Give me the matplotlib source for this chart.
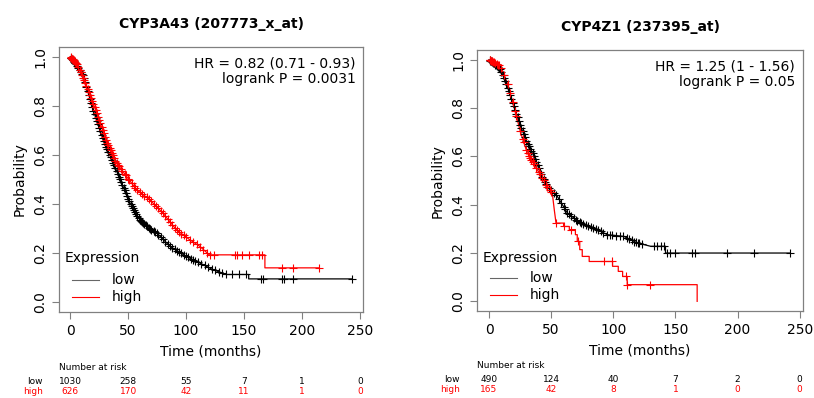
import numpy as np
import matplotlib
matplotlib.use('Agg')
import matplotlib.pyplot as plt
import matplotlib.transforms as mtransforms

plt.rcParams['font.family'] = 'DejaVu Sans'

# ---- left panel: CYP3A43 ----
a_title = 'CYP3A43 (207773_x_at)'
a_stats = 'HR = 0.82 (0.71 - 0.93)\nlogrank P = 0.0031'
a_low_t = [0, 5, 11.5, 20, 28.6, 37.2, 43, 51.5, 60, 67, 74.5, 86, 100, 111.7, 123, 134.6, 154, 154, 243]
a_low_s = [1.0, 0.97, 0.92, 0.78, 0.66, 0.567, 0.50, 0.405, 0.336, 0.305, 0.283, 0.228, 0.187, 0.16, 0.133, 0.113, 0.113, 0.095, 0.095]
a_high_t = [0, 6, 14.3, 23, 31, 40, 48.7, 57.3, 68.7, 80, 91.6, 103, 111.7, 120, 168, 168, 215]
a_high_s = [1.0, 0.97, 0.878, 0.77, 0.66, 0.567, 0.512, 0.458, 0.417, 0.363, 0.295, 0.255, 0.228, 0.193, 0.193, 0.14, 0.14]
a_low_cens = [0.5, 1, 1.5, 2, 2.5, 3, 3.5, 4, 4.5, 5, 6, 7, 8, 9, 10, 11, 12, 13, 14, 15, 16, 17, 18, 19, 20,
              21, 22, 23, 24, 25, 26, 27, 28, 29, 30, 31, 32, 33, 34, 35, 36, 37, 38, 39, 40, 41, 42, 43, 44,
              45, 46, 47, 48, 49, 50, 51, 52, 53, 54, 55, 56, 57, 58, 59, 60, 61, 62, 63, 64, 65, 66, 68, 69,
              70, 72, 73, 75, 76, 78, 80, 82, 84, 86, 88, 90, 92, 94, 96, 98, 100, 102, 104, 106, 108, 110,
              113, 116, 119, 122, 125, 128, 131, 134.6, 140, 146, 152, 164.6, 166, 183, 184.5, 192, 243]
a_high_cens = [0.5, 1, 1.5, 2, 2.5, 3, 3.5, 4, 5, 6, 7, 8, 9, 10, 11, 12, 13, 14, 15, 16, 17, 18, 19, 20, 21,
               22, 23, 24, 25, 26, 27, 28, 29, 30, 31, 32, 33, 34, 35, 36, 37, 38, 39, 40, 41, 42, 44, 45,
               47, 48, 50, 51, 53, 55, 56, 58, 60, 62, 64, 66, 68, 70, 72, 74, 76, 78, 80, 82, 84, 86, 88, 90,
               92, 94, 96, 98, 100, 103, 106, 109, 112, 115, 118, 121, 124, 141.8, 144.3, 148.6, 154.6, 163.2,
               165.8, 183, 192, 215]
a_risk_low = ['1030', '258', '55', '7', '1', '0']
a_risk_high = ['626', '170', '42', '11', '1', '0']

# ---- right panel: CYP4Z1 ----
b_title = 'CYP4Z1 (237395_at)'
b_stats = 'HR = 1.25 (1 - 1.56)\nlogrank P = 0.05'
b_low_t = [0, 4, 9.4, 14.7, 20, 25.5, 30.8, 36.2, 41.5, 46.9, 55, 63, 73.7, 84.4, 95.1, 108.5, 119.2, 130, 142, 142, 242.5]
b_low_s = [1.0, 0.985, 0.959, 0.89, 0.807, 0.724, 0.655, 0.60, 0.531, 0.476, 0.434, 0.366, 0.324, 0.304, 0.276, 0.269, 0.242, 0.228, 0.228, 0.20, 0.20]
b_high_t = [0, 4, 9.4, 14.7, 20, 25.5, 30.8, 38.8, 46.9, 50.9, 52.5, 53.9, 60, 60, 64.6, 64.6, 69.5, 69.5, 71, 71,
            73, 73, 75, 75, 80.6, 80.6, 99.4, 99.4, 104, 104, 107.5, 107.5, 111.2, 111.2, 167.5, 167.5]
b_high_s = [1.0, 0.99, 0.972, 0.904, 0.807, 0.697, 0.614, 0.545, 0.476, 0.448, 0.379, 0.324, 0.324, 0.31, 0.31,
            0.297, 0.297, 0.276, 0.276, 0.248, 0.248, 0.214, 0.214, 0.186, 0.186, 0.165, 0.165, 0.145,
            0.145, 0.124, 0.124, 0.103, 0.103, 0.069, 0.069, 0.0]
b_low_cens = [0.5, 1, 1.5, 2, 3, 4, 5, 6, 7, 8, 9, 10, 11, 12, 13, 14, 15, 16, 17, 18, 19, 20, 21, 22, 23, 24,
              25, 26, 27, 28, 29, 30, 31, 32, 33, 34, 35, 36, 37, 38, 39, 40, 41, 42, 43, 44, 45, 46, 48,
              50, 52, 54, 56, 58, 60, 61, 63, 64, 66, 68, 70, 71, 73, 74, 76, 78, 80, 82, 84, 86, 88, 90,
              92, 95, 97, 99, 102, 105, 108, 111, 113, 115, 117, 118, 120, 121, 123, 132.6, 135, 138,
              140.7, 143.3, 146, 149.5, 163, 165.6, 191.6, 213.6, 242.5]
b_high_cens = [0.5, 1, 1.5, 2, 2.5, 3, 4, 5, 6, 7, 8, 10, 12, 15, 17, 19, 21, 22, 25, 27, 28, 30, 31, 32, 33,
               34, 35, 36, 38, 40, 41, 43, 44, 46, 47, 49, 50, 54, 60, 66, 71.5, 92.4, 99, 110.4, 111.2, 129.4]
b_risk_low = ['490', '124', '40', '7', '2', '0']
b_risk_high = ['165', '42', '8', '1', '0', '0']

risk_times = [0, 50, 100, 150, 200, 250]

fig = plt.figure(figsize=(8.14, 3.98), dpi=100)
ax1 = fig.add_axes([0.0725, 0.216, 0.3735, 0.666])
ax2 = fig.add_axes([0.586, 0.2186, 0.4005, 0.6554])

gray = '#808080'


def draw_panel(ax, title, stats, lt, ls, ht, hs, lc, hc, rlow, rhigh, ytext, legy):
    ax.plot(lt, ls, color='black', lw=0.9)
    ax.plot(ht, hs, color='red', lw=0.9)
    # censor marks sit on the curve at their time
    ax.plot(lc, np.interp(lc, lt, ls), ls='none', marker='+', ms=6, mew=0.8, color='black')
    ax.plot(hc, np.interp(hc, ht, hs), ls='none', marker='+', ms=6, mew=0.8, color='red')

    ax.set_xlim(-9.7, 252.7)
    ax.set_ylim(-0.04, 1.04)
    ax.set_xticks(risk_times)
    ax.set_yticks([0, 0.2, 0.4, 0.6, 0.8, 1.0])
    ax.set_yticklabels(['0.0', '0.2', '0.4', '0.6', '0.8', '1.0'], rotation=90, va='center')
    ax.tick_params(colors=gray, labelcolor='black', labelsize=10, length=5, width=0.8)
    for sp in ax.spines.values():
        sp.set_color(gray)
        sp.set_linewidth(0.9)
    ax.set_xlabel('Time (months)', fontsize=10, labelpad=5)
    ax.set_ylabel('Probability', fontsize=10, labelpad=5)
    ax.set_title(title, fontsize=10, fontweight='bold', pad=14)
    ax.text(0.975, 0.965, stats, transform=ax.transAxes, ha='right', va='top',
            fontsize=10, linespacing=1.2)

    # legend drawn by hand: title, then two entries (offsets in pixels from axes left)
    def at(dx):
        return mtransforms.offset_copy(ax.transAxes, fig=fig, x=dx, y=0, units='dots')
    ax_w_px = ax.get_position().width * fig.get_figwidth() * fig.dpi
    ax.text(0, legy[0], 'Expression', transform=at(6), ha='left', va='center', fontsize=10)
    for yy, lab, col, al in [(legy[1], 'low', 'black', 0.6), (legy[2], 'high', 'red', 1.0)]:
        ax.plot([0, 27 / ax_w_px], [yy, yy], transform=at(13), color=col, lw=0.8, alpha=al)
        ax.text(0, yy, lab, transform=at(53), ha='left', va='center', fontsize=10)

    tr = mtransforms.blended_transform_factory(ax.transData, fig.transFigure)
    x0 = ax.get_xlim()[0]
    ax.text(x0, ytext[0], 'Number at risk', transform=tr, ha='left', va='center', fontsize=6.5)
    ax.text(x0 - 14, ytext[1], 'low', transform=tr, ha='right', va='center', fontsize=6.5)
    ax.text(x0 - 14, ytext[2], 'high', transform=tr, ha='right', va='center', fontsize=6.5, color='red')
    for t, lo, hi in zip(risk_times, rlow, rhigh):
        ax.text(t, ytext[1], lo, transform=tr, ha='center', va='center', fontsize=6.5)
        ax.text(t, ytext[2], hi, transform=tr, ha='center', va='center', fontsize=6.5, color='red')


draw_panel(ax1, a_title, a_stats, a_low_t, a_low_s, a_high_t, a_high_s, a_low_cens, a_high_cens,
           a_risk_low, a_risk_high, (1 - 368 / 398, 1 - 381 / 398, 1 - 392 / 398), (0.204, 0.121, 0.057))
draw_panel(ax2, b_title, b_stats, b_low_t, b_low_s, b_high_t, b_high_s, b_low_cens, b_high_cens,
           b_risk_low, b_risk_high, (1 - 366 / 398, 1 - 380 / 398, 1 - 390 / 398), (0.203, 0.126, 0.061))

fig.savefig('out.png', dpi=100)
